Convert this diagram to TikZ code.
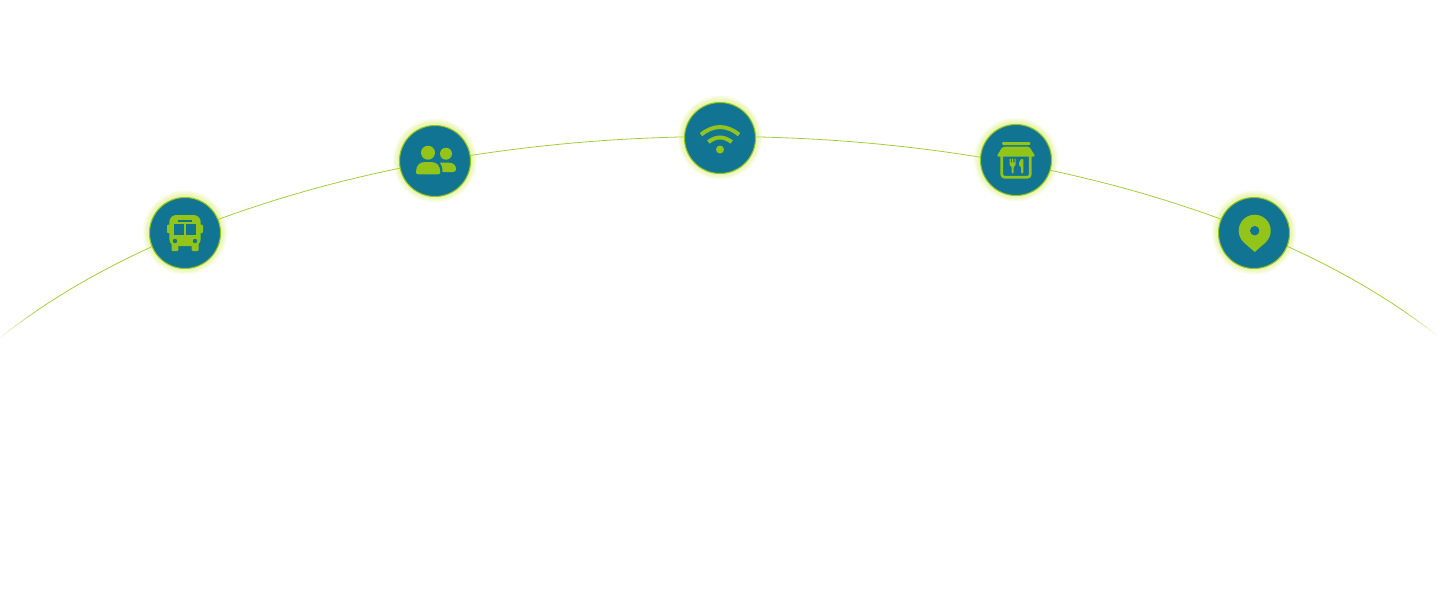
\documentclass[tikz,border=0pt]{standalone}
\usepackage{tikz}
\definecolor{leaf}{RGB}{146,196,26}
\definecolor{teal}{RGB}{16,116,146}
\definecolor{halo}{RGB}{205,232,70}
\tikzset{
  x=0.5pt, y=-0.5pt,
  badge/.style={circle, draw=leaf, line width=0.5pt, fill=teal, minimum size=35.5pt, inner sep=0pt},
  curve/.style={color=leaf!85!white, line width=0.4pt},
  icon/.style={fill=leaf, draw=none},
  hole/.style={fill=teal, draw=none},
  stroke/.style={draw=leaf, line width=2pt}
}
\begin{document}
\begin{tikzpicture}
\useasboundingbox (0, 0) rectangle (1440, 600);
% the arch, fading out at both ends
\draw[curve] plot[domain=37:143, samples=100] ({720+850*cos(\x)}, {566.5-430*sin(\x)});
\foreach \i in {0,...,9} {
  \pgfmathsetmacro{\tint}{85-\i*8.5}
  \draw[curve, color=leaf!\tint!white] plot[domain=37-\i*0.45:36.5-\i*0.45, samples=3] ({720+850*cos(\x)}, {566.5-430*sin(\x)});
  \draw[curve, color=leaf!\tint!white] plot[domain=143+\i*0.5:143.5+\i*0.5, samples=3] ({720+850*cos(\x)}, {566.5-430*sin(\x)});
}
% glow behind the badges
\foreach \cx/\cy in {185/233, 435/161, 720/138, 1016/160, 1254/233} {
  \foreach \r in {36,37,...,42} {
    \fill[halo, opacity=0.09] (\cx, \cy-0.5) circle (\r);
  }
}
\node[badge] (bus) at (185, 233) {};
\node[badge] (people) at (435, 161) {};
\node[badge] (wifi) at (720, 138) {};
\node[badge] (shop) at (1016, 160) {};
\node[badge] (pin) at (1254, 233) {};
% bus
\begin{scope}[shift={(bus)}]
\fill[icon, rounded corners=3.5pt] (-15.7, -18) rectangle (15.7, 13);
\fill[icon, rounded corners=0.5pt] (-18, -8.5) rectangle (18, 0);
\fill[icon, rounded corners=0.5pt] (-13.5, 8) rectangle (-6.7, 18);
\fill[icon, rounded corners=0.5pt] (6.7, 8) rectangle (13.5, 18);
\fill[hole] (-10.7, -9) rectangle (-1, 2.3);
\fill[hole] (1.3, -9) rectangle (10.7, 2.3);
\fill[hole] (-6.7, -13.5) rectangle (6.7, -11.5);
\fill[hole] (-10, 8) circle (2.2);
\fill[hole] (10, 8) circle (2.2);
\end{scope}
% people
\begin{scope}[shift={(people)}]
\fill[icon] (-7, -8.3) circle (7);
\fill[icon] (11, -7.3) circle (6);
\fill[icon] (-19, 11) .. controls (-19, 4) and (-15, 1) .. (-10, 1) -- (-4, 1) .. controls (1, 1) and (5.3, 4) .. (5.3, 11) .. controls (5.3, 13) and (4, 13.3) .. (3, 13.3) -- (-17, 13.3) .. controls (-18.5, 13.3) and (-19, 12.5) .. (-19, 11) -- cycle;
\fill[icon] (5, 1.7) -- (14, 1.7) .. controls (18, 1.7) and (21, 4) .. (21, 8) .. controls (21, 10) and (20, 11) .. (18, 11) -- (7.5, 11) .. controls (7.5, 7) and (7, 4) .. (5, 1.7) -- cycle;
\end{scope}
% wifi
\begin{scope}[shift={(wifi)}]
\draw[stroke] (-19, -3.3) .. controls (-7, -13.5) and (7, -13.5) .. (19, -3.3);
\draw[stroke] (-11.7, 4) .. controls (-4, -2) and (4, -2) .. (11.7, 4);
\fill[icon] (0, 11.5) circle (4);
\end{scope}
% shop
\begin{scope}[shift={(shop)}]
\fill[icon, rounded corners=0.5pt] (-14, -18) rectangle (14.3, -15);
\fill[icon, rounded corners=0.8pt] (-13.5, -13.3) -- (13.5, -13.3) -- (19.5, -3.3) -- (-19.5, -3.3) -- cycle;
\draw[leaf, line width=1.35pt, rounded corners=1.5pt] (-14.3, -4) -- (-14.3, 17.3) -- (14.3, 17.3) -- (14.3, -4);
\fill[icon, rounded corners=0.4pt] (-6.3, -1.7) -- (-5.2, -1.7) -- (-5.2, 3) -- (-4, 3) -- (-4, -1.7) -- (-2.7, -1.7) -- (-2.7, 3) -- (-1.5, 3) -- (-1.5, -1.7) -- (-0.3, -1.7) -- (-0.3, 5) -- (-2.3, 7) -- (-2.3, 13.3) -- (-4.3, 13.3) -- (-4.3, 7) -- (-6.3, 5) -- cycle;
\fill[icon, rounded corners=0.4pt] (5, -1) -- (7.3, -1) -- (7.3, 13.3) -- (5.2, 13.3) -- (5.2, 7) -- (3.2, 6) -- (3.2, 2) -- cycle;
\end{scope}
% pin
\begin{scope}[shift={(pin)}]
\fill[icon] (0.7, -2.3) circle (16);
\fill[icon] (0.7, 19) -- (11.3, 9.7) -- (-9.9, 9.7) -- cycle;
\fill[hole] (0.7, -2.3) circle (4.7);
\end{scope}
\end{tikzpicture}
\end{document}
